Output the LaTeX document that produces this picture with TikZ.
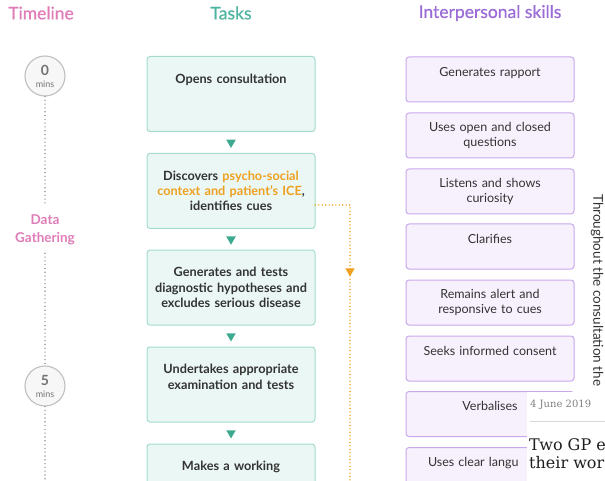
\documentclass[tikz,border=0pt]{standalone}
\usepackage{fontspec}
\setmainfont{Lato}
\newfontfamily\headfont{Lato}[FakeBold=0.6]
\newfontfamily\postfont{DejaVu Serif}
\usetikzlibrary{shapes.geometric}

\definecolor{tlpink}{HTML}{E07DB8}
\definecolor{taskteal}{HTML}{4DB39E}
\definecolor{taskfill}{HTML}{EAF7F4}
\definecolor{taskline}{HTML}{A3DCCE}
\definecolor{arrteal}{HTML}{3DAA90}
\definecolor{skillpurple}{HTML}{9B6BD6}
\definecolor{skillfill}{HTML}{F7F0FD}
\definecolor{skillline}{HTML}{C9A9EC}
\definecolor{iceorange}{HTML}{EFA020}
\definecolor{txtgray}{HTML}{333333}

\begin{document}
\begin{tikzpicture}[x=1pt,y=-1pt,
	title/.style={font=\headfont\fontsize{17.5}{20}\selectfont, inner sep=0},
	minute/.style={circle, draw=black!25, line width=1.1pt, fill=black!3, minimum size=40pt, inner sep=0, align=center, text=black!55},
	phase/.style={font=\bfseries\fontsize{13.5}{18}\selectfont, text=tlpink, align=center, inner sep=8pt},
	timeline/.style={black!40, line width=1.6pt, dash pattern=on 0pt off 3.8pt, line cap=round},
	task/.style={draw=taskline, fill=taskfill, line width=1pt, rounded corners=3pt, minimum width=168pt, minimum height=75pt, text width=160pt, align=center, font=\bfseries\fontsize{12.7}{15.3}\selectfont, text=txtgray},
	tri/.style={regular polygon, regular polygon sides=3, shape border rotate=180, minimum size=11pt, inner sep=0, fill=arrteal},
	ice/.style={iceorange, line width=1.6pt, dash pattern=on 0pt off 3.4pt, line cap=round},
	skill/.style={draw=skillline, fill=skillfill, line width=1pt, rounded corners=3pt, minimum width=168pt, minimum height=45pt, text width=160pt, align=center, font=\fontsize{12.5}{15.3}\selectfont, text=txtgray}]
	\useasboundingbox[clip] (0,0) rectangle (605,481);

	% column heads
	\node[title, text=tlpink] (hd1) at (41,13) {Timeline};
	\node[title, text=taskteal] (hd2) at (231,13) {Tasks};
	\node[title, text=skillpurple] (hd3) at (490,13) {Interpersonal skills};

	% timeline
	\node[minute] (m0) at (45,76) {{\bfseries\fontsize{14}{14}\selectfont 0}\\[0pt]{\fontsize{9}{9}\selectfont mins}};
	\node[phase] (dg) at (45,230) {Data\\Gathering};
	\node[minute] (m5) at (45,386) {{\bfseries\fontsize{14}{14}\selectfont 5}\\[0pt]{\fontsize{9}{9}\selectfont mins}};
	\coordinate (tlend) at (45,490);
	\draw[timeline] (m0) -- (dg);
	\draw[timeline] (dg) -- (m5);
	\draw[timeline] (m5) -- (tlend);

	% tasks
	\node[task] (t1) at (231,94) {Opens consultation\\~\\~};
	\node[task] (t2) at (231,191) {Discovers \textcolor{iceorange}{psycho-social}\\\textcolor{iceorange}{context and patient's ICE},\\identifies cues};
	\node[task] (t3) at (231,287.5) {Generates and tests\\diagnostic hypotheses and\\excludes serious disease};
	\node[task] (t4) at (231,384.5) {Undertakes appropriate\\examination and tests\\~};
	\node[task] (t5) at (231,481.5) {Makes a working\\~\\~};
	\path (t1) -- node[tri] (a1) {} (t2);
	\path (t2) -- node[tri] (a2) {} (t3);
	\path (t3) -- node[tri] (a3) {} (t4);
	\path (t4) -- node[tri] (a4) {} (t5);

	% ICE carries through
	\coordinate (ic1) at (350,205);
	\coordinate (ic2) at (350,490);
	\draw[ice] (t2.east |- ic1) -- (ic1) -- (ic2);
	\node[tri, fill=iceorange] (ia) at (350,271) {};

	% interpersonal skills
	\node[skill] (s1) at (490,79.5) {Generates rapport\\~};
	\node[skill] (s2) at (490,135.5) {Uses open and closed\\questions};
	\node[skill] (s3) at (490,191.5) {Listens and shows\\curiosity};
	\node[skill] (s4) at (490,246.5) {Clarifies\\~};
	\node[skill] (s5) at (490,302.5) {Remains alert and\\responsive to cues};
	\node[skill] (s6) at (490,358.5) {Seeks informed consent\\~};
	\node[skill] (s7) at (490,414) {Verbalises\\~};
	\node[skill, text width=124pt, align=left] (s8) at (490,470) {Uses clear langu\\~};
	\node[rotate=-90, anchor=west, inner sep=0, font=\fontsize{13.5}{16}\selectfont, text=txtgray] (thr) at (597,194) {Throughout the consultation the};

	% page overlay
	\fill[white] (527,392) rectangle (605,481);
	\node[anchor=west, inner sep=0, font=\postfont\fontsize{10}{12}\selectfont, text=black!50] (date) at (530,405) {4 June 2019};
	\draw[black!15, line width=0.8pt] (530,421) -- (605,421);
	\node[anchor=north west, inner sep=0, align=left, font=\postfont\fontsize{16}{18}\selectfont, text=black!88] (post) at (529,438) {Two GP e\\their wor};
\end{tikzpicture}
\end{document}
